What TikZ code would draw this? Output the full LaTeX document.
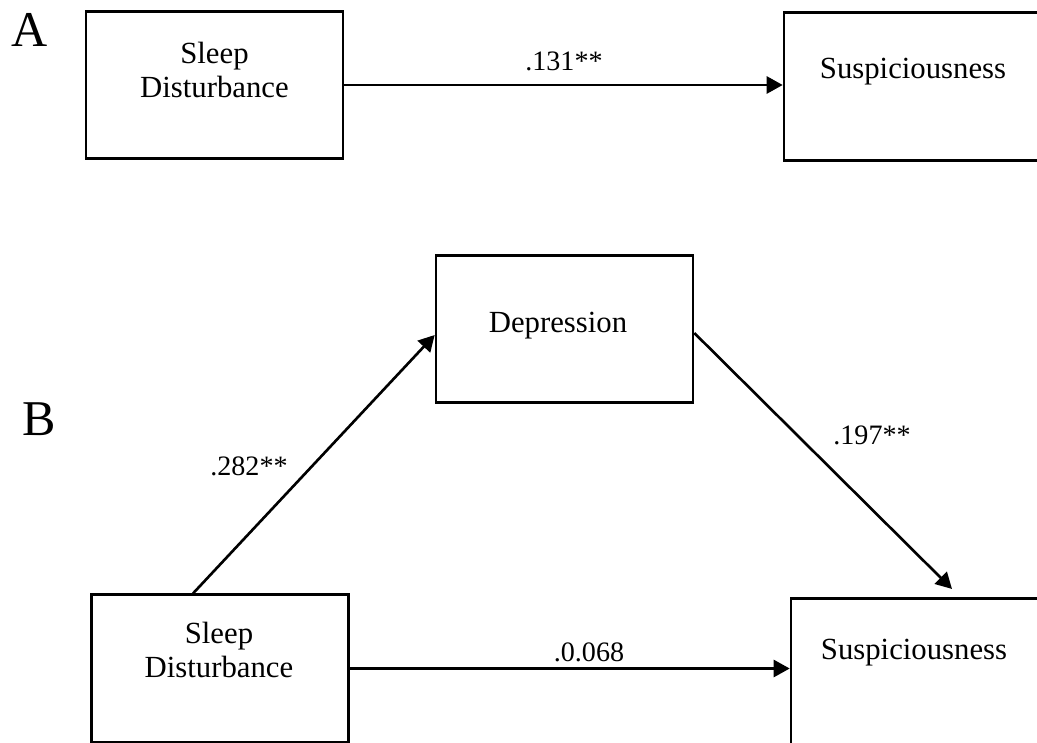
\documentclass[tikz,border=0pt]{standalone}
\usepackage{fontspec}
\setmainfont{Liberation Serif}
\usetikzlibrary{arrows.meta,positioning,calc}

\begin{document}
\begin{tikzpicture}[
  x=0.02cm, y=-0.02cm,
  box/.style={rectangle, draw, line width=1.5pt, minimum width=5.14cm, minimum height=2.95cm, inner sep=0pt},
  txt/.style={align=center, font=\fontsize{17.5}{19.5}\selectfont, inner sep=0pt},
  lbl/.style={font=\fontsize{16}{18}\selectfont, inner sep=0pt},
  panel/.style={font=\fontsize{28.5}{30}\selectfont, inner sep=0pt},
  arr/.style={line width=1.5pt, -{Triangle[length=0.32cm, width=0.34cm]}}
]
  \useasboundingbox (0,0) rectangle (1037,743);
  \clip (0,0) rectangle (1037,743);

  % panel A
  \node[panel] (labA) at (30,30) {A};
  \node[box] (sleepA) at (214.5,85) {};
  \node[txt] (sleepAtxt) at (214.5,70) {Sleep\\Disturbance};
  \node[box] (suspA) at (912.5,86.5) {};
  \node[txt] (suspAtxt) at (913,72) {Suspiciousness};

  \draw[arr] (sleepA.east) -- (sleepA.east -| suspA.west);
  \node[lbl] (cA) at (564,61) {.131**};

  % panel B
  \node[panel] (labB) at (39,419) {B};
  \node[box] (dep) at (564.5,329) {};
  \node[txt] (deptxt) at (558,326) {Depression};
  \node[box] (sleepB) at (220,668.5) {};
  \node[txt] (sleepBtxt) at (219,650) {Sleep\\Disturbance};
  \node[box] (suspB) at (919.5,672) {};
  \node[txt] (suspBtxt) at (914,653) {Suspiciousness};

  \draw[arr] ([xshift=-0.54cm]sleepB.north) -- ([yshift=-0.12cm]dep.west);
  \draw[arr] ([yshift=-0.08cm]dep.east) -- ([xshift=0.65cm, yshift=0.16cm]suspB.north);
  \draw[arr] (sleepB.east) -- (sleepB.east -| suspB.west);

  \node[lbl] (aB) at (249,466) {.282**};
  \node[lbl] (bB) at (872,435) {.197**};
  \node[lbl] (cB) at (589,652) {.0.068};
\end{tikzpicture}
\end{document}
